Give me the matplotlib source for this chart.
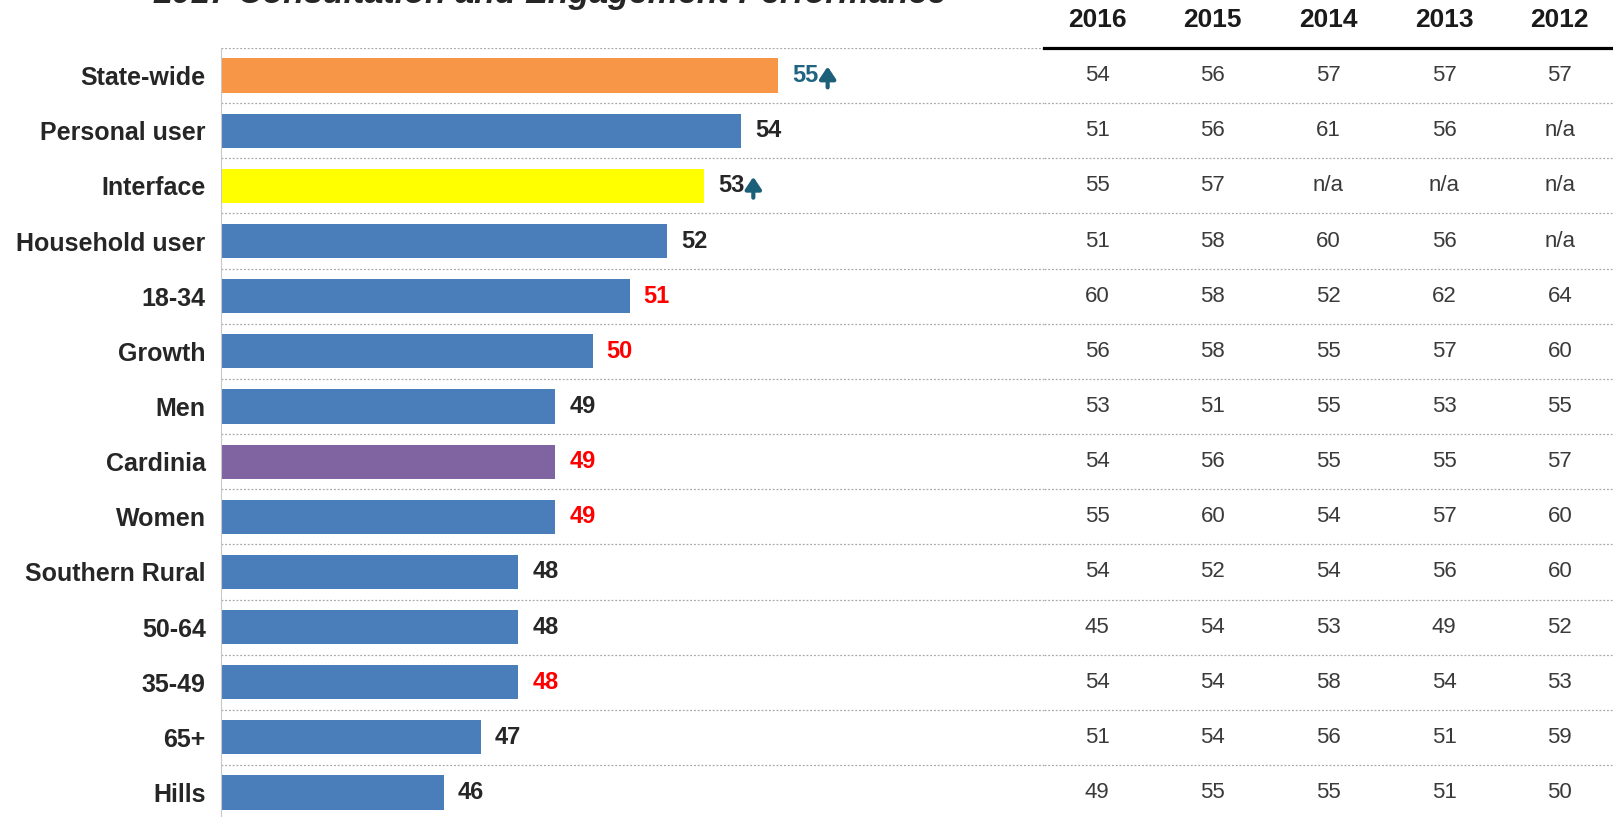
import matplotlib.pyplot as plt
from matplotlib.transforms import offset_copy

plt.rcParams['font.family'] = ['Liberation Sans', 'DejaVu Sans']

# 2017 index scores per group
groups = ['State-wide', 'Personal user', 'Interface', 'Household user', '18-34',
          'Growth', 'Men', 'Cardinia', 'Women', 'Southern Rural', '50-64',
          '35-49', '65+', 'Hills']
score_2017 = [55, 54, 53, 52, 51, 50, 49, 49, 49, 48, 48, 48, 47, 46]

# earlier years for the side table
years = ['2016', '2015', '2014', '2013', '2012']
y2016 = [54, 51, 55, 51, 60, 56, 53, 54, 55, 54, 45, 54, 51, 49]
y2015 = [56, 56, 57, 58, 58, 58, 51, 56, 60, 52, 54, 54, 54, 55]
y2014 = [57, 61, 'n/a', 60, 52, 55, 55, 55, 54, 54, 53, 58, 56, 55]
y2013 = [57, 56, 'n/a', 56, 62, 57, 53, 55, 57, 56, 49, 54, 51, 51]
y2012 = [57, 'n/a', 'n/a', 'n/a', 64, 60, 55, 57, 60, 60, 52, 53, 59, 50]
history = [y2016, y2015, y2014, y2013, y2012]

# significantly higher / lower flags
sig_up = [True, False, True, False, False, False, False, False, False, False, False, False, False, False]
sig_down = [False, False, False, False, True, True, False, True, True, False, False, True, False, False]

BLUE = '#4a7ebb'
TEAL = '#1b5f78'
bar_colors = [BLUE] * len(groups)
bar_colors[0] = '#f79646'
bar_colors[2] = '#ffff00'
bar_colors[7] = '#8064a2'

W, H = 1613, 817
fig = plt.figure(figsize=(W / 100, H / 100), dpi=100)

top_px = 48
row_px = 55.15
n = len(groups)
ax_h = n * row_px
ax = fig.add_axes([221 / W, 1 - (top_px + ax_h) / H, (1044 - 221) / W, ax_h / H])
tab = fig.add_axes([1044 / W, 1 - (top_px + ax_h) / H, (W - 1044) / W, ax_h / H])

ypos = list(range(n))
ax.barh(ypos, score_2017, height=0.62, color=bar_colors, left=0)
ax.set_xlim(40, 62.15)
ax.set_ylim(n - 0.5, -0.5)
ax.set_yticks(ypos)
ax.set_yticklabels(groups, fontsize=18, fontweight='bold', color='#262626')
ax.set_xticks([])
ax.tick_params(axis='y', length=0, pad=11)
for s in ['top', 'right', 'bottom']:
    ax.spines[s].set_visible(False)
ax.spines['left'].set_color('#c8c8c8')
ax.spines['left'].set_linewidth(0.8)

for b in range(n):
    ax.axhline(b - 0.5, color='#a8a8a8', lw=0.9, ls=(0, (1.5, 1.5)), zorder=0)

for i, v in enumerate(score_2017):
    if sig_up[i] and i == 0:
        col = '#1f6480'
    elif sig_down[i]:
        col = '#ff0000'
    else:
        col = '#262626'
    ax.annotate(str(v), (v, i), xytext=(10, 0), textcoords='offset points',
                va='center', ha='left', fontsize=17, fontweight='bold', color=col)
    if sig_up[i]:
        # up arrow just after the value
        tip = offset_copy(ax.transData, fig=fig, x=35.5, y=6.5, units='points')
        ax.annotate('', xy=(v, i), xycoords=tip, xytext=(0, -15),
                    textcoords='offset points',
                    arrowprops=dict(arrowstyle='-|>,head_width=0.24,head_length=0.36',
                                    mutation_scale=20, lw=3.0, color=TEAL,
                                    shrinkA=0, shrinkB=0))

# side table of previous results
tab.set_xlim(-0.46, 4.46)
tab.set_ylim(n - 0.5, -0.5)
tab.set_xticks([])
tab.set_yticks([])
for s in ['left', 'right', 'bottom']:
    tab.spines[s].set_visible(False)
tab.spines['top'].set_color('black')
tab.spines['top'].set_linewidth(2.3)
for b in range(1, n):
    tab.axhline(b - 0.5, color='#a8a8a8', lw=0.9, ls=(0, (1.5, 1.5)), zorder=0)

for c, (yr, col_vals) in enumerate(zip(years, history)):
    tab.text(c, -1.0, yr, ha='center', va='center', fontsize=19,
             fontweight='bold', color='#1a1a1a', clip_on=False)
    for i, v in enumerate(col_vals):
        tab.text(c, i, str(v), ha='center', va='center', fontsize=16,
                 color='#3a3a3a')

fig.text(550 / W, 1 - 3.5 / H, '2017 Consultation and Engagement Performance',
         ha='center', va='baseline', fontsize=24.5, fontweight='bold',
         fontstyle='italic', color='#262626')

fig.savefig('out.png', dpi=100, facecolor='white')
